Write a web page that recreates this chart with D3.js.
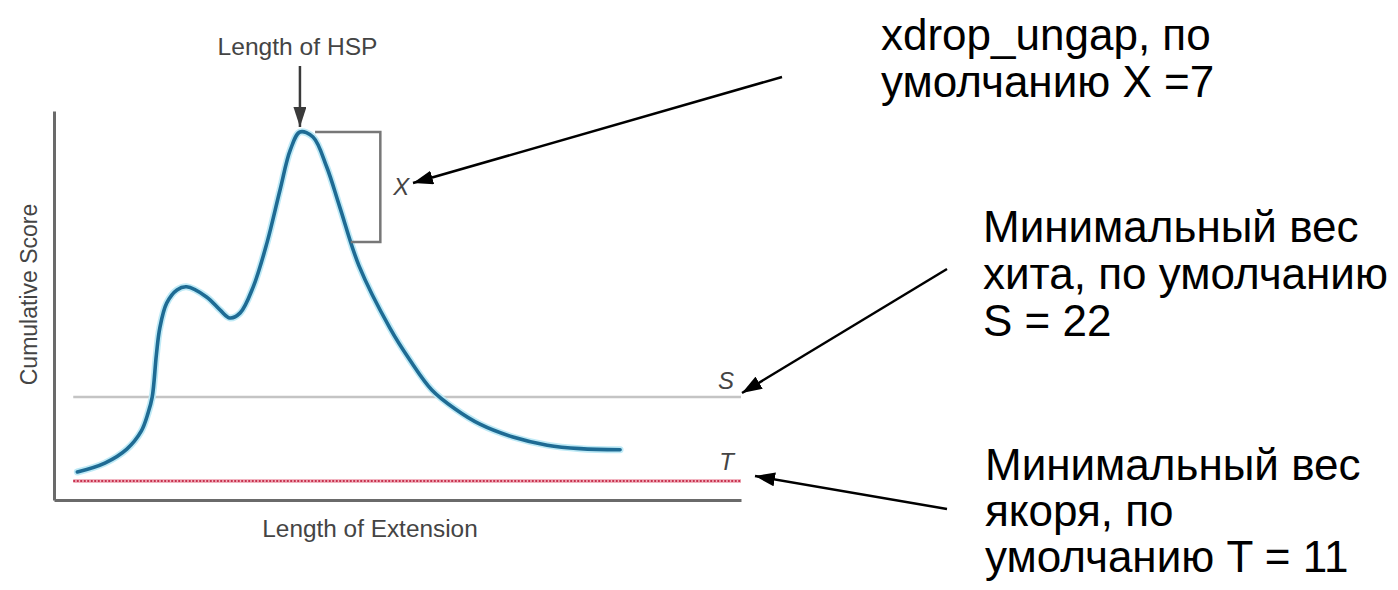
<!DOCTYPE html>
<html>
<head>
<meta charset="utf-8">
<script src="https://cdn.jsdelivr.net/npm/d3@7"></script>
<style>
  html, body { margin: 0; padding: 0; background: #ffffff; }
  svg { display: block; }
</style>
</head>
<body>
<svg id="chart" width="1398" height="590"></svg>
<script>
// ---- data (arbitrary units: x = length of extension, y = cumulative score) ----
const extensionX = [3.4, 7.4, 10.6, 12.7, 13.7, 14.3, 14.9, 15.4, 16.4, 17.9, 19.3, 22.2, 24.2, 25.6, 27.1, 29.0, 31.0, 32.9, 34.4, 35.8, 37.7, 39.7, 41.6, 44.4, 48.9, 51.8, 55.0, 58.4, 62.0, 66.8, 71.8, 76.6, 82.4];
const scoreY     = [7.2, 9.5, 13.1, 17.7, 22.4, 26.5, 37.3, 44.2, 50.6, 54.0, 54.8, 52.2, 48.8, 46.8, 48.1, 54.8, 66.1, 79.7, 90.0, 94.6, 93.3, 85.6, 75.3, 60.2, 44.2, 36.0, 28.3, 23.4, 19.5, 16.2, 14.1, 13.2, 12.9];
const thresholdNames  = ["S", "T"];
const thresholdValues = [26.5, 4.9];
const xDrop = 28.3;
const axisTitles = ["Length of Extension", "Cumulative Score"];
const peakLabel = "Length of HSP";
const dropLabel = "X";
const noteXdrop = ["xdrop_ungap, по", "умолчанию X =7"];
const noteS = ["Минимальный вес", "хита, по умолчанию", "S = 22"];
const noteT = ["Минимальный вес", "якоря, по", "умолчанию T = 11"];

// ---- layout ----
const svg = d3.select("#chart");
svg.append("rect").attr("width", 1398).attr("height", 590).attr("fill", "#fff");

const x = d3.scaleLinear().domain([0, 100]).range([54, 741]);
const y = d3.scaleLinear().domain([0, 100]).range([500, 111]);

const font = "'Liberation Sans', Arial, Helvetica, sans-serif";
const g = svg.append("g");

// defs: arrowheads
const defs = svg.append("defs");
defs.append("marker").attr("id", "blackHead")
  .attr("viewBox", "0 0 20 14").attr("refX", 20).attr("refY", 7)
  .attr("markerWidth", 20).attr("markerHeight", 14)
  .attr("markerUnits", "userSpaceOnUse").attr("orient", "auto")
  .append("path").attr("d", "M0,0 L20,7 L0,14 Z").attr("fill", "#000");
defs.append("marker").attr("id", "grayHead")
  .attr("viewBox", "0 0 20 13").attr("refX", 20).attr("refY", 6.5)
  .attr("markerWidth", 20).attr("markerHeight", 13)
  .attr("markerUnits", "userSpaceOnUse").attr("orient", "auto")
  .append("path").attr("d", "M0,0 L20,6.5 L0,13 Z").attr("fill", "#3a3a3a");

// axes (no ticks)
const xAxis = g.append("g").attr("transform", `translate(0,${y(0)})`)
  .call(d3.axisBottom(x).ticks(0).tickSizeOuter(0));
const yAxis = g.append("g").attr("transform", `translate(${x(0)},0)`)
  .call(d3.axisLeft(y).ticks(0).tickSizeOuter(0));
[xAxis, yAxis].forEach(a => a.select(".domain").attr("stroke", "#6a6a6a").attr("stroke-width", 3));

// threshold lines
const lineStart = 2.8;
g.append("line")
  .attr("x1", x(lineStart)).attr("x2", x(100))
  .attr("y1", y(thresholdValues[0])).attr("y2", y(thresholdValues[0]))
  .attr("stroke", "#c4c4c4").attr("stroke-width", 2.5);
g.append("line")
  .attr("x1", x(lineStart)).attr("x2", x(100))
  .attr("y1", y(thresholdValues[1])).attr("y2", y(thresholdValues[1]))
  .attr("stroke", "#f2b6c2").attr("stroke-width", 4);
g.append("line")
  .attr("x1", x(lineStart)).attr("x2", x(100))
  .attr("y1", y(thresholdValues[1])).attr("y2", y(thresholdValues[1]))
  .attr("stroke", "#c8324f").attr("stroke-width", 2).attr("stroke-dasharray", "2,1.5");

// threshold labels
thresholdNames.forEach((n, i) => {
  g.append("text").attr("x", x(100) - 7).attr("y", y(thresholdValues[i]) - (i === 0 ? 8 : 11))
    .attr("text-anchor", "end").attr("font-family", font).attr("font-style", "italic")
    .attr("font-size", 24).attr("fill", "#444").text(n);
});

// curve
const pts = extensionX.map((v, i) => [v, scoreY[i]]);
const line = d3.line().x(d => x(d[0])).y(d => y(d[1])).curve(d3.curveCatmullRom.alpha(0.5));
g.append("path").datum(pts).attr("d", line).attr("fill", "none")
  .attr("stroke", "#bfeaf6").attr("stroke-width", 7).attr("stroke-linecap", "round");
g.append("path").datum(pts).attr("d", line).attr("fill", "none")
  .attr("stroke", "#1e6b94").attr("stroke-width", 3.6).attr("stroke-linecap", "round");

// peak
const peakIdx = d3.maxIndex(scoreY);
const peakX = extensionX[peakIdx], peakY = scoreY[peakIdx];

// bracket for X drop
const bx1 = 38.0, bx2 = 47.5, bxb = 43.2;
g.append("path")
  .attr("d", `M${x(bx1)},${y(peakY)} H${x(bx2)} V${y(peakY - xDrop)} H${x(bxb)}`)
  .attr("fill", "none").attr("stroke", "#777").attr("stroke-width", 2.5);
g.append("text").attr("x", x(bx2) + 21).attr("y", y(peakY - xDrop / 2) + 8)
  .attr("text-anchor", "middle").attr("font-family", font).attr("font-style", "italic")
  .attr("font-size", 24).attr("fill", "#444").text(dropLabel);

// Length of HSP label + arrow
g.append("line").attr("x1", x(peakX)).attr("x2", x(peakX))
  .attr("y1", 66).attr("y2", y(peakY) - 5)
  .attr("stroke", "#3a3a3a").attr("stroke-width", 2.5).attr("marker-end", "url(#grayHead)");
g.append("text").attr("transform", `translate(297.5,55) scale(1.07,1)`)
  .attr("text-anchor", "middle").attr("font-family", font)
  .attr("font-size", 23).attr("fill", "#444").text(peakLabel);

// axis titles
g.append("text").attr("transform", `translate(370,537) scale(1.06,1)`)
  .attr("text-anchor", "middle").attr("font-family", font)
  .attr("font-size", 23).attr("fill", "#444").text(axisTitles[0]);
g.append("text").attr("transform", `translate(37,${(y(0) + y(100)) / 2 - 11}) rotate(-90)`)
  .attr("text-anchor", "middle").attr("font-family", font)
  .attr("font-size", 23).attr("fill", "#444").text(axisTitles[1]);

// annotations (right side)
function note(lines, tx, ty, lh) {
  const t = svg.append("text").attr("font-family", font).attr("font-size", 44).attr("fill", "#000");
  lines.forEach((s, i) => t.append("tspan").attr("x", tx).attr("y", ty + i * lh).text(s));
}
note(noteXdrop, 881, 50, 47);
note(noteS, 983, 242, 47);
note(noteT, 985, 480, 46);

// annotation arrows
const arrows = [
  [782, 77, 413, 183],
  [947, 269, 742, 393],
  [947, 509, 755, 476]
];
arrows.forEach(a => {
  svg.append("line").attr("x1", a[0]).attr("y1", a[1]).attr("x2", a[2]).attr("y2", a[3])
    .attr("stroke", "#000").attr("stroke-width", 2.5).attr("marker-end", "url(#blackHead)");
});
</script>
</body>
</html>
